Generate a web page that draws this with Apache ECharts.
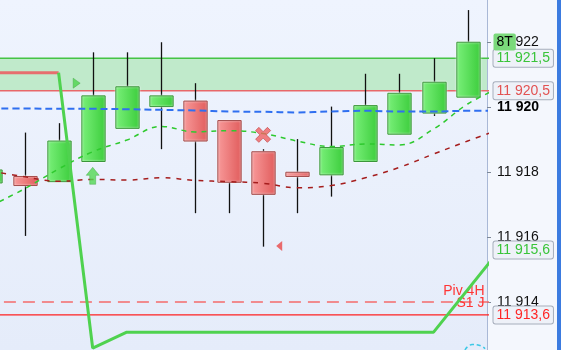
<!DOCTYPE html>
<html><head><meta charset="utf-8">
<script src="https://cdn.jsdelivr.net/npm/echarts@6/dist/echarts.min.js"></script>
<style>html,body{margin:0;padding:0;background:#f4f7fd}#c{width:561px;height:350px}</style>
</head><body><div id="c"></div>
<script>
// ---- data ----
const candleX = [-1, 0, 1, 2, 3, 4, 5, 6, 7, 8, 9, 10, 11, 12, 13];
const opens  = [11917.66, 11917.86, 11917.70, 11918.32, 11919.34, 11920.01, 11920.18, 11919.58, 11918.62, 11917.99, 11917.91, 11918.32, 11919.16, 11919.81, 11920.30];
const closes = [11918.06, 11917.58, 11918.95, 11920.34, 11920.62, 11920.34, 11918.95, 11917.68, 11917.31, 11917.86, 11918.75, 11920.04, 11920.42, 11920.76, 11921.99];
const lows   = [11917.66, 11916.03, 11917.70, 11918.32, 11919.34, 11918.70, 11916.73, 11916.73, 11915.70, 11916.73, 11917.24, 11918.32, 11919.16, 11919.72, 11920.30];
const highs  = [11918.06, 11919.21, 11919.50, 11921.68, 11921.68, 11921.99, 11920.73, 11919.58, 11918.70, 11919.01, 11920.01, 11921.02, 11921.02, 11921.50, 11922.98];

const maX = [-1, 0, 1, 2, 3, 4, 5, 6, 7, 8, 9, 10, 11, 12, 13, 14];
const maGreen = [11916.95, 11917.48, 11918.09, 11918.62, 11918.98, 11919.40, 11919.23, 11919.27, 11919.18, 11918.95, 11918.78, 11918.86, 11918.83, 11919.32, 11920.09, 11920.62];
const maRed   = [11918.03, 11917.85, 11917.71, 11917.77, 11917.75, 11917.82, 11917.74, 11917.70, 11917.65, 11917.51, 11917.58, 11917.82, 11918.14, 11918.55, 11918.95, 11919.33];
const maBlue  = [11919.95, 11919.95, 11919.94, 11919.94, 11919.93, 11919.91, 11919.89, 11919.86, 11919.85, 11919.83, 11919.86, 11919.88, 11919.86, 11919.86, 11919.88, 11919.88];

const stopRedX = [-1, 1];
const stopRedY = [11921.05, 11921.05];
const stopGreenX = [1, 2, 3, 12, 14];
const stopGreenY = [11921.05, 11912.58, 11913.07, 11913.07, 11915.68];

const arcX = [12.92, 13.13, 13.36, 13.51];
const arcY = [11912.52, 11912.69, 11912.66, 11912.56];

const markerX = [1.53, 2, 7, 7.47];
const markerY = [11920.73, 11917.88, 11919.14, 11915.72];

const yTicks = [11914, 11916, 11918, 11920, 11922];
const bandTop = 11921.5, bandBottom = 11920.5;
const pivot4H = 11914.0, s1Day = 11913.6, stopLast = 11915.6, priceTag = 11922;
const xMin = -0.719, xMax = 13.567;

// ---- chart ----
const zip = (a, b) => a.map((v, i) => [v, b[i]]);
const level = v => [[xMin - 1, v], [xMax + 1, v]];
const fmtNum = v => '11 ' + String(Math.round((v - 11000) * 10) / 10).replace('.', ',');
const font = "'Liberation Sans', Arial, sans-serif";

function renderCandle(params, api) {
  const x = api.value(0), o = api.value(1), c = api.value(2), l = api.value(3), h = api.value(4);
  const up = c >= o;
  const pO = api.coord([x, o]), pC = api.coord([x, c]), pL = api.coord([x, l]), pH = api.coord([x, h]);
  const w = api.size([1, 0])[0] * 0.684;
  const top = Math.min(pO[1], pC[1]), bot = Math.max(pO[1], pC[1]);
  const cx = Math.round(pO[0]) + 0.5;
  const children = [];
  if (pH[1] < top - 0.5) children.push({type: 'line', shape: {x1: cx, y1: pH[1], x2: cx, y2: top}, style: {stroke: '#111', lineWidth: 1.3}});
  if (pL[1] > bot + 0.5) children.push({type: 'line', shape: {x1: cx, y1: bot, x2: cx, y2: pL[1]}, style: {stroke: '#111', lineWidth: 1.3}});
  const fill = up
    ? new echarts.graphic.LinearGradient(0, 0, 1, 0, [{offset: 0, color: '#7af07a'}, {offset: 1, color: '#3ccd3c'}])
    : new echarts.graphic.LinearGradient(0, 0, 1, 0, [{offset: 0, color: '#f89a9a'}, {offset: 1, color: '#e15c5c'}]);
  children.push({type: 'rect', shape: {x: cx - w / 2, y: top, width: w, height: Math.max(bot - top, 2)},
    style: {fill: fill, stroke: up ? '#3b963b' : '#a24a4a', lineWidth: 1, shadowBlur: 2, shadowColor: 'rgba(255,255,255,0.9)'}});
  return {type: 'group', children};
}

const boxTag = (v, text, color, bg) => ({
  coord: [xMax, v],
  label: {show: true, position: 'right', distance: 6, formatter: text, color: color,
    fontSize: 14, fontFamily: font, backgroundColor: bg || '#eef1f8',
    borderColor: bg ? 'transparent' : '#a6aebc', borderWidth: bg ? 0 : 1, borderRadius: 2, padding: [2, 3, 1, 3]}
});
const sideText = (v, text, dy) => ({
  coord: [xMax, v],
  label: {show: true, position: 'left', distance: 2, offset: [0, dy], formatter: text, color: '#ff3535', fontSize: 14, fontFamily: font}
});
const levelLine = (v, color, width, type, z) => ({
  type: 'line', data: level(v), symbol: 'none', z: z, clip: true, silent: true,
  lineStyle: {color: color, width: width, type: type}, itemStyle: {color: color}
});

const chart = echarts.init(document.getElementById('c'));
chart.setOption({
  animation: false,
  backgroundColor: '#f4f7fd',
  grid: {left: 0, right: 74, top: 0, bottom: 0, show: true, borderWidth: 0,
    backgroundColor: new echarts.graphic.LinearGradient(0, 0, 0, 1, [{offset: 0, color: '#eff4fe'}, {offset: 1, color: '#e5ecfa'}])},
  xAxis: {type: 'value', min: xMin, max: xMax, show: false, splitLine: {show: false},
    axisLine: {show: false, onZero: false}},
  yAxis: {type: 'value', position: 'right', min: 11912.52, max: 11923.29, scale: true,
    splitLine: {show: false},
    axisLine: {show: true, onZero: false, lineStyle: {color: '#a9b8d6', width: 1}},
    axisTick: {show: true, customValues: yTicks, length: 4, lineStyle: {color: '#7d8898'}},
    axisLabel: {customValues: yTicks, margin: 10, fontSize: 14, fontFamily: font, color: '#111',
      formatter: v => v === 11920 ? '{b|' + fmtNum(v) + '}' : fmtNum(v),
      rich: {b: {fontWeight: 'bold', fontSize: 14, fontFamily: font, color: '#000'}}}
  },
  graphic: [{type: 'rect', right: 0, top: 0, shape: {width: 4, height: 350}, style: {fill: '#3b7be0'}}],
  series: [
    Object.assign(levelLine(bandTop, '#45c445', 1.5, 'solid', 1), {
      markArea: {silent: true, itemStyle: {color: '#c0eacb'}, data: [[{yAxis: bandTop}, {yAxis: bandBottom}]]}
    }),
    levelLine(bandBottom, '#e8686a', 1.5, 'solid', 1),
    levelLine(pivot4H, '#f56b6b', 1.5, [12, 7], 1),
    levelLine(s1Day, '#ff2020', 1.2, 'solid', 1),
    {type: 'custom', renderItem: renderCandle, z: 3, clip: true,
      encode: {x: 0, y: [1, 2, 3, 4]},
      data: candleX.map((x, i) => [x, opens[i], closes[i], lows[i], highs[i]])},
    {type: 'line', data: zip(maX, maRed), smooth: 0.4, symbol: 'none', z: 4, clip: true,
      lineStyle: {color: '#a51d1d', width: 1.5, type: [5, 6]}},
    {type: 'line', data: zip(maX, maGreen), smooth: 0.4, symbol: 'none', z: 4, clip: true,
      lineStyle: {color: '#2ec92e', width: 1.5, type: [5, 5]}},
    {type: 'line', data: zip(maX, maBlue), smooth: 0.4, symbol: 'none', z: 4, clip: true,
      lineStyle: {color: '#2f6ff0', width: 2, type: [7, 4]}},
    {type: 'line', data: zip(stopRedX, stopRedY), symbol: 'none', z: 5, clip: true,
      lineStyle: {color: '#e66e6e', width: 3}},
    {type: 'line', data: zip(stopGreenX, stopGreenY), symbol: 'none', z: 5, clip: true,
      lineStyle: {color: '#4fd24f', width: 3}},
    {type: 'line', data: zip(arcX, arcY), smooth: true, symbol: 'none', z: 5, clip: true,
      lineStyle: {color: '#3cc8e6', width: 1.5, type: [4, 3]}},
    {type: 'scatter', z: 6, silent: true,
      data: [
        {value: [markerX[0], markerY[0]], symbol: 'path://M0,0 L1,0.5 L0,1 Z', symbolSize: [7, 10], itemStyle: {color: '#4cd44c', borderColor: '#3aa03a', borderWidth: 0.5}},
        {value: [markerX[1], markerY[1]], symbol: 'path://M6.5,0 L13,8 L9.5,8 L9.5,17 L3.5,17 L3.5,8 L0,8 Z', symbolSize: [13, 17], itemStyle: {color: '#52d852', borderColor: '#3aa03a', borderWidth: 0.5}},
        {value: [markerX[2], markerY[2]], symbol: 'path://M3,0 L7,4 L11,0 L14,3 L10,7 L14,11 L11,14 L7,10 L3,14 L0,11 L4,7 L0,3 Z', symbolSize: [15, 15], itemStyle: {color: '#f06262', borderColor: '#c04040', borderWidth: 0.8}},
        {value: [markerX[3], markerY[3]], symbol: 'path://M1,0 L1,1 L0,0.5 Z', symbolSize: [6, 10], itemStyle: {color: '#e84848'}}
      ]},
    {type: 'scatter', data: [], z: 7, silent: true,
      markPoint: {silent: true, symbol: 'rect', symbolSize: 1, itemStyle: {color: 'transparent'},
        data: [
          boxTag(bandTop, fmtNum(bandTop), '#39c439'),
          boxTag(bandBottom, fmtNum(bandBottom), '#e25252'),
          boxTag(stopLast, fmtNum(stopLast), '#39c439'),
          boxTag(s1Day, fmtNum(s1Day), '#ff2525'),
          boxTag(priceTag, '8T', '#000', '#7bd97b'),
          sideText(pivot4H, 'Piv 4H', -11),
          sideText(s1Day, 'S1 J', -12)
        ]}
    }
  ]
});
</script>
</body></html>
